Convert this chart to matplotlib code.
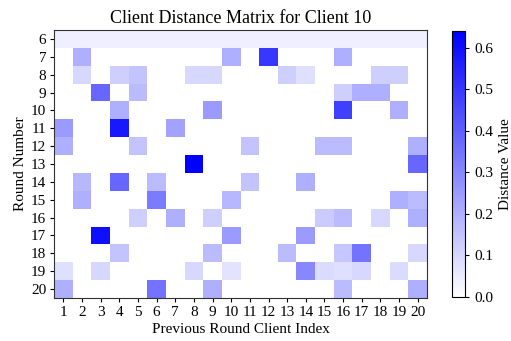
import numpy as np
import matplotlib
matplotlib.use("Agg")
import matplotlib.pyplot as plt
from matplotlib.colors import LinearSegmentedColormap

plt.rcParams['font.family'] = ['Liberation Serif', 'DejaVu Serif']

rounds = list(range(6, 21))
clients = list(range(1, 21))

# distance values per round (columns = previous round clients 1..20)
r06 = [0.04] * 20
r07 = [0, 0.2, 0, 0, 0, 0, 0, 0, 0, 0.2, 0, 0.5, 0, 0, 0, 0.2, 0, 0, 0, 0]
r08 = [0, 0.1, 0, 0.12, 0.15, 0, 0, 0.1, 0.1, 0, 0, 0, 0.12, 0.08, 0, 0, 0, 0.12, 0.12, 0]
r09 = [0, 0, 0.38, 0, 0.17, 0, 0, 0, 0, 0, 0, 0, 0, 0, 0, 0.12, 0.2, 0.2, 0, 0]
r10 = [0, 0, 0, 0.2, 0, 0, 0, 0, 0.25, 0, 0, 0, 0, 0, 0, 0.48, 0, 0, 0.2, 0]
r11 = [0.25, 0, 0, 0.58, 0, 0, 0.23, 0, 0, 0, 0, 0, 0, 0, 0, 0, 0, 0, 0, 0]
r12 = [0.2, 0, 0, 0, 0.15, 0, 0, 0, 0, 0, 0.15, 0, 0, 0, 0.17, 0.17, 0, 0, 0, 0.2]
r13 = [0, 0, 0, 0, 0, 0, 0, 0.64, 0, 0, 0, 0, 0, 0, 0, 0, 0, 0, 0, 0.38]
r14 = [0, 0.18, 0, 0.38, 0, 0.17, 0, 0, 0, 0, 0.15, 0, 0, 0.2, 0, 0, 0, 0, 0, 0]
r15 = [0, 0.2, 0, 0, 0, 0.33, 0, 0, 0, 0.18, 0, 0, 0, 0, 0, 0, 0, 0, 0.2, 0.17]
r16 = [0, 0, 0, 0, 0.12, 0, 0.2, 0, 0.12, 0, 0, 0, 0, 0, 0.13, 0.17, 0, 0.1, 0, 0.2]
r17 = [0, 0, 0.6, 0, 0, 0, 0, 0, 0, 0.25, 0, 0, 0, 0.25, 0, 0, 0, 0, 0, 0]
r18 = [0, 0, 0, 0.15, 0, 0, 0, 0, 0.17, 0, 0, 0, 0.17, 0, 0, 0.14, 0.35, 0, 0, 0.1]
r19 = [0.08, 0, 0.1, 0, 0, 0, 0, 0.1, 0, 0.07, 0, 0, 0, 0.3, 0.09, 0.08, 0.1, 0, 0.09, 0]
r20 = [0.2, 0, 0, 0, 0, 0.35, 0, 0, 0.2, 0, 0, 0, 0, 0, 0, 0.17, 0, 0, 0, 0.2]

matrix = np.array([r06, r07, r08, r09, r10, r11, r12, r13, r14,
                   r15, r16, r17, r18, r19, r20])

cmap = LinearSegmentedColormap.from_list("wb", ["#ffffff", "#0000ff"])

fig = plt.figure(figsize=(5.11, 3.41), dpi=100)
ax = fig.add_axes([0.1057, 0.126, 0.73, 0.786])
cax = fig.add_axes([0.8845, 0.129, 0.0254, 0.780])

mesh = ax.pcolormesh(np.arange(len(clients) + 1), np.arange(len(rounds) + 1),
                     matrix, cmap=cmap, vmin=0, vmax=matrix.max())
ax.set_xlim(0, len(clients))
ax.set_ylim(len(rounds), 0)
ax.set_xticks(np.arange(len(clients)) + 0.5)
ax.set_xticklabels([str(c) for c in clients], fontsize=11)
ax.set_yticks(np.arange(len(rounds)) + 0.5)
ax.set_yticklabels([str(r) for r in rounds], fontsize=11)
ax.tick_params(length=3, width=0.8, pad=2.5)
for s in ax.spines.values():
    s.set_color("#333333")
    s.set_linewidth(0.8)

ax.set_title("Client Distance Matrix for Client 10", fontsize=13, pad=5)
ax.set_xlabel("Previous Round Client Index", fontsize=11, labelpad=3)
ax.set_ylabel("Round Number", fontsize=11, labelpad=3)

cb = fig.colorbar(mesh, cax=cax)
cb.set_label("Distance Value", fontsize=11)
cb.ax.tick_params(labelsize=11, length=3, width=0.8)
cb.outline.set_linewidth(0.8)

fig.savefig("out.png", dpi=100)
